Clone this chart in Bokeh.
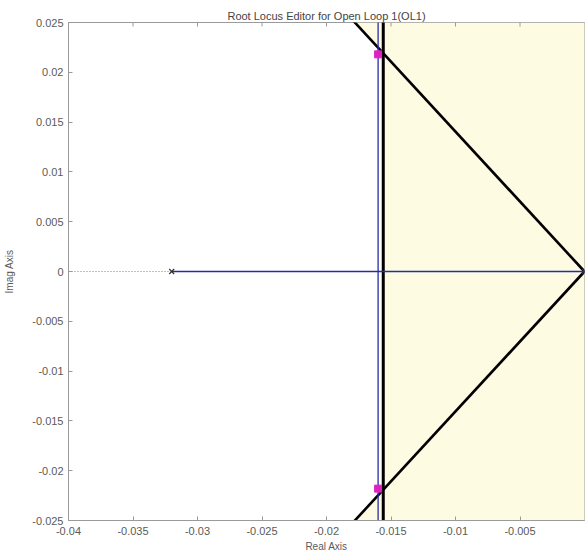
from bokeh.plotting import figure
from bokeh.models import Range1d, FixedTicker
from bokeh.embed import file_html
from bokeh.resources import INLINE
import numpy as np

# --- root locus data -------------------------------------------------------
ol_pole_re = [-0.032, 0.0]          # open-loop poles (on the real axis)
ol_pole_im = [0.0, 0.0]
breakaway = -0.016                  # where the two branches leave the real axis
cl_pole_re = [-0.016, -0.016]       # current closed-loop poles
cl_pole_im = [0.0218, -0.0218]

# design requirements
sigma_bound = -0.0156               # settling-time boundary (real part)
zeta = 0.58                         # damping-ratio boundary

x_ticks = [-0.04, -0.035, -0.03, -0.025, -0.02, -0.015, -0.01, -0.005]
x_labels = ["-0.04", "-0.035", "-0.03", "-0.025", "-0.02", "-0.015", "-0.01", "-0.005"]
y_ticks = [0.025, 0.02, 0.015, 0.01, 0.005, 0.0, -0.005, -0.01, -0.015, -0.02, -0.025]
y_labels = ["0.025", "0.02", "0.015", "0.01", "0.005", "0", "-0.005", "-0.01", "-0.015", "-0.02", "-0.025"]

x_min, x_max = -0.04, 0.0
y_min, y_max = -0.025, 0.025

FONT = "Liberation Sans"
GREY_TXT = "#5a5a5a"
AX = "#9a9a9a"

p = figure(width=585, height=560, output_backend="svg", toolbar_location=None,
           x_range=Range1d(x_min, x_max), y_range=Range1d(y_min, y_max),
           min_border_left=68, min_border_right=1, min_border_top=22, min_border_bottom=40,
           title="Root Locus Editor for Open Loop 1(OL1)")
p.grid.visible = False
p.outline_line_color = AX
p.background_fill_color = "white"
p.border_fill_color = "white"

p.title.align = "center"
p.title.text_font = FONT
p.title.text_font_size = "11px"
p.title.text_font_style = "normal"
p.title.text_color = "#444444"
p.title.offset = 0
p.title.standoff = 2

# shaded (forbidden) region: right of the settling-time line, or outside the damping cone
slope = np.tan(np.arccos(zeta))
x_top = -y_max / slope
y_sig = -sigma_bound * slope
shade_x = [x_top, x_max + 0.001, x_max + 0.001, x_top, sigma_bound, sigma_bound]
shade_y = [y_max, y_max, y_min, y_min, -y_sig, y_sig]
p.patch(shade_x, shade_y, fill_color="#fdfbe2", line_color=None)

# requirement boundaries
p.line([x_max, -0.03], [0, 0.03 * slope], line_color="black", line_width=2.6)
p.line([x_max, -0.03], [0, -0.03 * slope], line_color="black", line_width=2.6)
p.line([sigma_bound, sigma_bound], [y_min - 0.01, y_max + 0.01], line_color="black", line_width=3)

# root locus branches
BLUE = "#2a2aa8"
p.line([x_min, ol_pole_re[0]], [0, 0], line_color="#808080", line_width=1, line_dash="1 2")
p.line([ol_pole_re[0], ol_pole_re[1]], [0, 0], line_color=BLUE, line_width=1.3)
p.line([breakaway, breakaway], [y_min - 0.01, y_max + 0.01], line_color=BLUE, line_width=1.3)

# poles
p.scatter(ol_pole_re, ol_pole_im, marker="x", size=7, line_color="#333333", line_width=1.2)
p.scatter(cl_pole_re, cl_pole_im, marker="square", size=7, fill_color="#e020c0",
          line_color="#e020c0")

# inward tick marks along the top edge of the box
p.scatter(x_ticks, [y_max] * len(x_ticks), marker="dash", angle=np.pi / 2, size=8,
          line_color=AX, line_width=1)


def style_axis(ax):
    ax.axis_line_color = AX
    ax.major_tick_line_color = AX
    ax.major_tick_in = 4
    ax.major_tick_out = 0
    ax.minor_tick_line_color = None
    ax.major_label_text_font = FONT
    ax.major_label_text_font_size = "11px"
    ax.major_label_text_color = GREY_TXT
    ax.axis_label_text_font = FONT
    ax.axis_label_text_font_size = "10px"
    ax.axis_label_text_font_style = "normal"
    ax.axis_label_text_color = GREY_TXT


xa = p.xaxis[0]
xa.ticker = FixedTicker(ticks=x_ticks)
xa.major_label_overrides = {t: s for t, s in zip(x_ticks, x_labels)}
xa.axis_label = "Real Axis"
xa.major_label_standoff = 6
xa.axis_label_standoff = 3
style_axis(xa)

ya = p.yaxis[0]
ya.ticker = FixedTicker(ticks=y_ticks)
ya.major_label_overrides = {t: s for t, s in zip(y_ticks, y_labels)}
ya.axis_label = "Imag Axis"
ya.major_label_standoff = 5
ya.axis_label_standoff = 14
style_axis(ya)

open("out.html", "w").write(file_html(p, INLINE))
